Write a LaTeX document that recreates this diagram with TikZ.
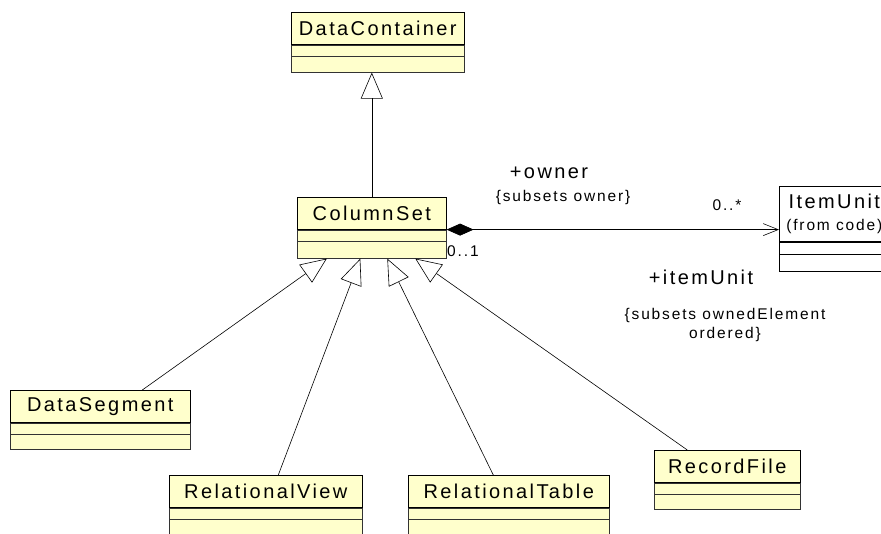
\documentclass[tikz,border=0pt]{standalone}
\usepackage{fontspec}
\setmainfont{Liberation Sans}[LetterSpace=12]
\usepackage{xcolor}
\usetikzlibrary{arrows.meta,shadows}
\definecolor{classyellow}{RGB}{255,255,204}
\tikzset{
    classname/.style={
        draw=black,
        rectangle,
        line width=0.6pt,
        anchor=north west,
        minimum height=32pt,
        inner sep=0pt,
        font=\fontsize{20pt}{22pt}\selectfont,
        drop shadow={shadow xshift=1pt, shadow yshift=-1pt, fill=black, opacity=1}
    },
    classpart/.style={
        draw=black!80,
        rectangle,
        line width=0.5pt,
        anchor=north,
        minimum height=11pt,
        inner sep=0pt,
        drop shadow={shadow xshift=1pt, shadow yshift=-1pt, fill=black, opacity=1}
    },
    roletext/.style={
        font=\fontsize{20pt}{22pt}\selectfont,
        inner sep=0pt
    },
    smalltext/.style={
        font=\fontsize{15.5pt}{19pt}\selectfont,
        inner sep=0pt
    },
    inherits/.style={
        draw=black,
        line width=0.6pt,
        -{Triangle[open, length=26pt, width=22pt]}
    },
    owns/.style={
        draw=black,
        line width=0.6pt,
        {Diamond[length=27pt, width=12pt]}-{Straight Barb[length=15pt, width=12pt]}
    }
}
% [style] name, x, y, width, ops height, text
\newcommand{\classbox}[7][fill=classyellow]{%
    \node[classname, #1, minimum width=#5] (#2) at (#3,#4) {#7};
    \node[classpart, #1, minimum width=#5] (#2-attr) at (#2.south) {};
    \node[classpart, #1, minimum width=#5, minimum height=#6] (#2-ops) at (#2-attr.south) {};
}

\begin{document}
\begin{tikzpicture}[x=1pt, y=-1pt]

\useasboundingbox (0,0) rectangle (881,533);
\clip (0,0) rectangle (881,533);

% ---------------------------------------------------------
% Classes
% ---------------------------------------------------------
\foreach \cname/\cx/\cy/\cw/\ch/\ctext in {
    dcont/291/12/173/16/DataContainer,
    colset/297/197/149/17/ColumnSet,
    dseg/10/390/180/15/DataSegment,
    rview/169/475/193/30/RelationalView,
    rtable/408/475/201/30/RelationalTable,
    rfile/654/450/146/15/RecordFile
}
{
    \classbox{\cname}{\cx}{\cy}{\cw pt}{\ch pt}{\ctext}
}

% ItemUnit comes from another package, so it is not yellow
\node[
    classname,
    fill=white,
    minimum width=110pt,
    minimum height=55pt,
    align=center
]
(iunit) at (779,186)
{ItemUnit\\[0pt]{\fontsize{15.5pt}{17pt}\selectfont (from code)}};
\node[classpart, draw=black, fill=white, minimum width=110pt, minimum height=12pt] (iunit-attr) at (iunit.south) {};
\node[classpart, draw=black, fill=white, minimum width=110pt, minimum height=17pt] (iunit-ops) at (iunit-attr.south) {};

% ---------------------------------------------------------
% Generalisations
% ---------------------------------------------------------
\draw[inherits] (colset.north) -- (colset.north |- dcont-ops.south);

\foreach \sub/\from/\to in {
    dseg/42/-45,
    rview/12.5/-11.5,
    rtable/-15.5/15.5,
    rfile/-40/43.5
}
{
    \draw[inherits] ([xshift=\from pt]\sub.north) -- ([xshift=\to pt]colset-ops.south);
}

% ---------------------------------------------------------
% Composition
% ---------------------------------------------------------
\draw[owns] (colset.south east) -- (colset.south east -| iunit.west);

\node[roletext] (ownerrole) at (549,173) {+owner};
\node[smalltext] (ownerset) at (563,197) {\{subsets owner\}};
\node[smalltext, anchor=west] (ownermult) at (447,251) {0..1};
\node[smalltext] (itemmult) at (727,205) {0..*};
\node[roletext] (itemrole) at (701,277) {+itemUnit};
\node[smalltext, align=center] (itemset) at (725,325) {\{subsets ownedElement\\ordered\}};

\end{tikzpicture}
\end{document}
